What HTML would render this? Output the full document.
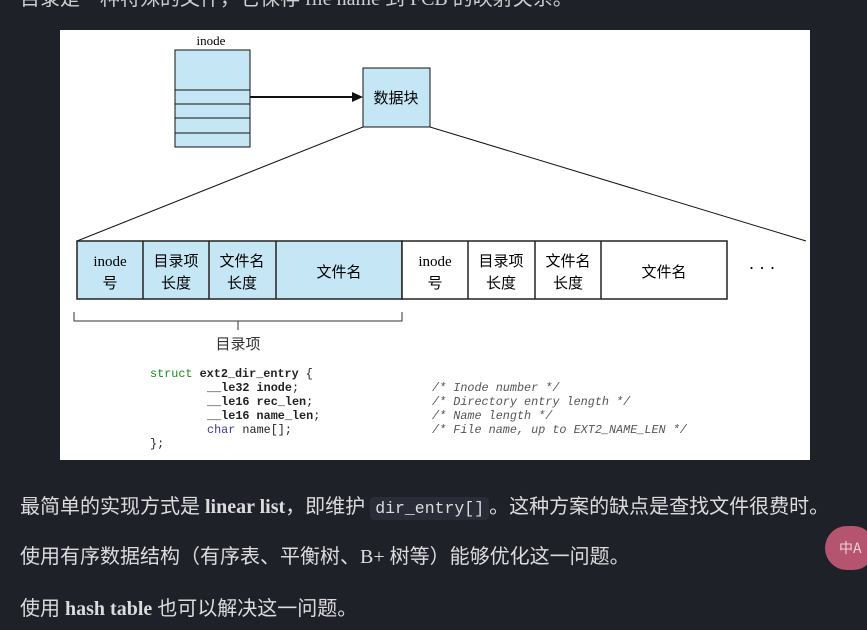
<!DOCTYPE html>
<html><head><meta charset="utf-8"><style>
html,body{margin:0;padding:0;width:867px;height:630px;overflow:hidden;background:#1f2129;}
.t{position:absolute;left:20px;color:#dcdcdc;font-family:"Liberation Serif","Noto Sans CJK SC",serif;font-size:20px;white-space:nowrap;}
code{font-family:"Liberation Mono","DejaVu Sans Mono",monospace;font-size:16.5px;background:#2a2d37;padding:2px 5px;border-radius:4px;}
</style></head><body>
<div class="t" style="top:-18px;color:#cfcfcf">目录是一种特殊的文件，它保存 file name 到 FCB 的映射关系。</div>
<svg style="position:absolute;left:0;top:0" width="867" height="630" font-family="'Liberation Serif','Noto Sans CJK SC',serif">
<rect x="60" y="30" width="750" height="430" fill="#fff"/>
<text x="211" y="45" font-size="13" text-anchor="middle">inode</text>
<rect x="175" y="50" width="75" height="97" fill="#c5e6f5" stroke="#111"/>
<g stroke="#111"><line x1="175" y1="90" x2="250" y2="90"/><line x1="175" y1="104" x2="250" y2="104"/><line x1="175" y1="118" x2="250" y2="118"/><line x1="175" y1="133" x2="250" y2="133"/></g>
<line x1="250" y1="97" x2="354" y2="97" stroke="#111" stroke-width="2"/>
<polygon points="363,97 352,92 352,102" fill="#111"/>
<rect x="363" y="68" width="67" height="59" fill="#c5e6f5" stroke="#111"/>
<text x="396" y="103" font-size="15" text-anchor="middle" font-family="'Noto Sans CJK SC',sans-serif">数据块</text>
<line x1="363" y1="127" x2="77" y2="241" stroke="#111"/>
<line x1="430" y1="127" x2="806" y2="241" stroke="#111"/>
<g stroke="#222" stroke-width="1.5">
<rect x="77" y="241" width="325" height="58" fill="#c5e6f5"/>
<rect x="402" y="241" width="325" height="58" fill="#fff"/>
<line x1="143" y1="241" x2="143" y2="299"/><line x1="209" y1="241" x2="209" y2="299"/><line x1="276" y1="241" x2="276" y2="299"/>
<line x1="468" y1="241" x2="468" y2="299"/><line x1="535" y1="241" x2="535" y2="299"/><line x1="601" y1="241" x2="601" y2="299"/>
</g>
<g font-size="15" text-anchor="middle" font-family="'Noto Sans CJK SC',sans-serif">
<text x="110" y="266" font-family="'Liberation Serif',serif">inode</text><text x="110" y="288">号</text>
<text x="176" y="266">目录项</text><text x="176" y="288">长度</text>
<text x="242" y="266">文件名</text><text x="242" y="288">长度</text>
<text x="339" y="277">文件名</text>
<text x="435" y="266" font-family="'Liberation Serif',serif">inode</text><text x="435" y="288">号</text>
<text x="501" y="266">目录项</text><text x="501" y="288">长度</text>
<text x="568" y="266">文件名</text><text x="568" y="288">长度</text>
<text x="664" y="277">文件名</text>
</g>
<text x="762" y="274" font-size="18" text-anchor="middle">· · ·</text>
<path d="M74,312 V321 H402 V312 M238,321 V330" fill="none" stroke="#333"/>
<text x="238" y="349" font-size="15" fill="#333" text-anchor="middle" font-family="'Noto Sans CJK SC',sans-serif">目录项</text>
<g font-family="'Liberation Mono',monospace" font-size="11.8" fill="#222">
<text x="150" y="377"><tspan fill="#1a8a1a">struct</tspan> <tspan font-weight="bold">ext2_dir_entry</tspan> {</text>
<text x="207" y="391" font-weight="bold">__le32  inode<tspan font-weight="normal">;</tspan></text>
<text x="207" y="405" font-weight="bold">__le16  rec_len<tspan font-weight="normal">;</tspan></text>
<text x="207" y="419" font-weight="bold">__le16  name_len<tspan font-weight="normal">;</tspan></text>
<text x="207" y="433"><tspan fill="#3a3aaa">char</tspan>    name[];</text>
<text x="150" y="447">};</text>
<g font-style="italic" fill="#555">
<text x="432" y="391">/* Inode number */</text>
<text x="432" y="405">/* Directory entry length */</text>
<text x="432" y="419">/* Name length */</text>
<text x="432" y="433">/* File name, up to EXT2_NAME_LEN */</text>
</g></g>
</svg>
<div class="t" style="top:490px">最简单的实现方式是 <b>linear list</b>，即维护 <code>dir_entry[]</code>。这种方案的缺点是查找文件很费时。</div>
<div class="t" style="top:540px">使用有序数据结构（有序表、平衡树、B+ 树等）能够优化这一问题。</div>
<div class="t" style="top:592px">使用 <b>hash table</b> 也可以解决这一问题。</div>
<div style="position:absolute;left:825px;top:526px;width:50px;height:44px;border-radius:22px;background:#b5546e;color:#f3d0d8;font:14px 'Noto Sans CJK SC',sans-serif;line-height:44px;padding-left:14px;box-sizing:border-box">中A</div>
</body></html>
